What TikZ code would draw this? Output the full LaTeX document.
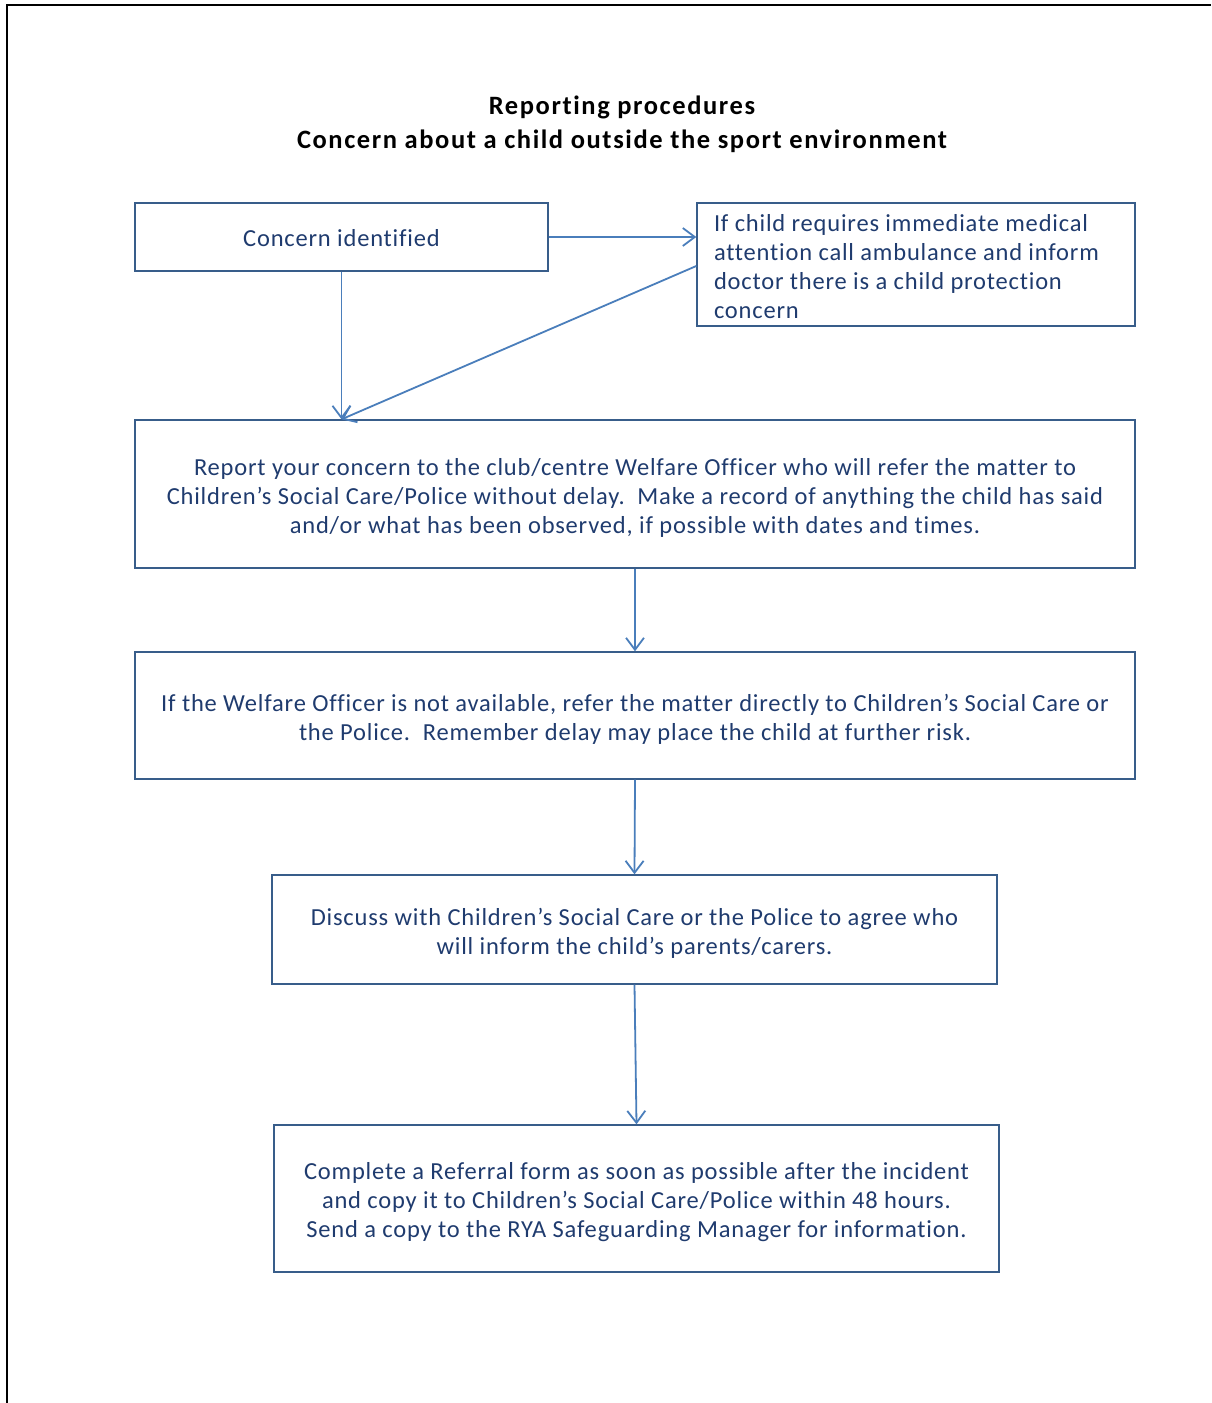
\documentclass[tikz,border=0pt]{standalone}
\usepackage{fontspec}
\setmainfont[Ligatures=NoCommon]{Carlito}
\newfontfamily\bodyfont[Ligatures=NoCommon,LetterSpace=3.3]{Carlito}
\newfontfamily\titlefont[Ligatures=NoCommon,LetterSpace=6]{Carlito}
\usetikzlibrary{arrows.meta,calc}
\definecolor{txtblue}{HTML}{1F3B6E}
\definecolor{boxblue}{HTML}{385D8A}
\definecolor{arrblue}{HTML}{4A7EBB}
\newcommand{\lowerstrut}[1]{\leavevmode\vrule width 0pt height #1pt\relax}
\begin{document}
\begin{tikzpicture}[x=1pt,y=-1pt,
  box/.style={draw=boxblue,line width=1.4pt,text=txtblue,font=\bodyfont\fontsize{24.5}{29}\selectfont,align=center,inner sep=0pt,anchor=center},
  conn/.style={draw=arrblue,line width=1.8pt,-{Straight Barb[length=12pt,width=18pt,line width=1.8pt]}}]
\useasboundingbox (0,0) rectangle (1211,1403);
\draw[line width=2.5pt,black] (7,1403) -- (7,5) -- (1211,5);
\node[font=\titlefont\bfseries\fontsize{26.5}{34}\selectfont,align=center] (title) at (622,124) {Reporting procedures\\Concern about a child outside the sport environment};
\node[box,minimum width=413pt,minimum height=68pt] (concern) at (341.5,237) {\lowerstrut{19}Concern identified};
\node[box,minimum width=438pt,minimum height=123pt,align=flush left,text width=404pt] (medical) at (916,264.5) {\lowerstrut{21}If child requires immediate medical\\attention call ambulance and inform\\doctor there is a child protection\\concern};
\node[box,minimum width=1000pt,minimum height=148pt] (report) at (635,494) {\lowerstrut{24}Report your concern to the club/centre Welfare Officer who will refer the matter to\\Children’s Social Care/Police without delay.\ \ Make a record of anything the child has said\\and/or what has been observed, if possible with dates and times.};
\node[box,minimum width=1000pt,minimum height=127pt] (welfare) at (635,715.5) {\lowerstrut{24}If the Welfare Officer is not available, refer the matter directly to Children’s Social Care or\\the Police.\ \ Remember delay may place the child at further risk.};
\node[box,minimum width=725pt,minimum height=109pt] (discuss) at (634.5,929.5) {\lowerstrut{25}Discuss with Children’s Social Care or the Police to agree who\\will inform the child’s parents/carers.};
\node[box,minimum width=725pt,minimum height=147pt] (complete) at (636.5,1198.5) {\lowerstrut{25}Complete a Referral form as soon as possible after the incident\\and copy it to Children’s Social Care/Police within 48 hours.\\Send a copy to the RYA Safeguarding Manager for information.};
\coordinate (rin) at (concern.south |- report.north);
\draw[conn] (concern.east) -- (medical.west |- concern.east);
\draw[conn] (concern.south) -- (rin);
\draw[conn] ($(medical.west)+(0,1.5)$) -- (rin);
\draw[conn] (report.south) -- (welfare.north);
\draw[conn] (welfare.south) -- (discuss.north);
\draw[conn] (discuss.south) -- (complete.north);
\end{tikzpicture}
\end{document}
